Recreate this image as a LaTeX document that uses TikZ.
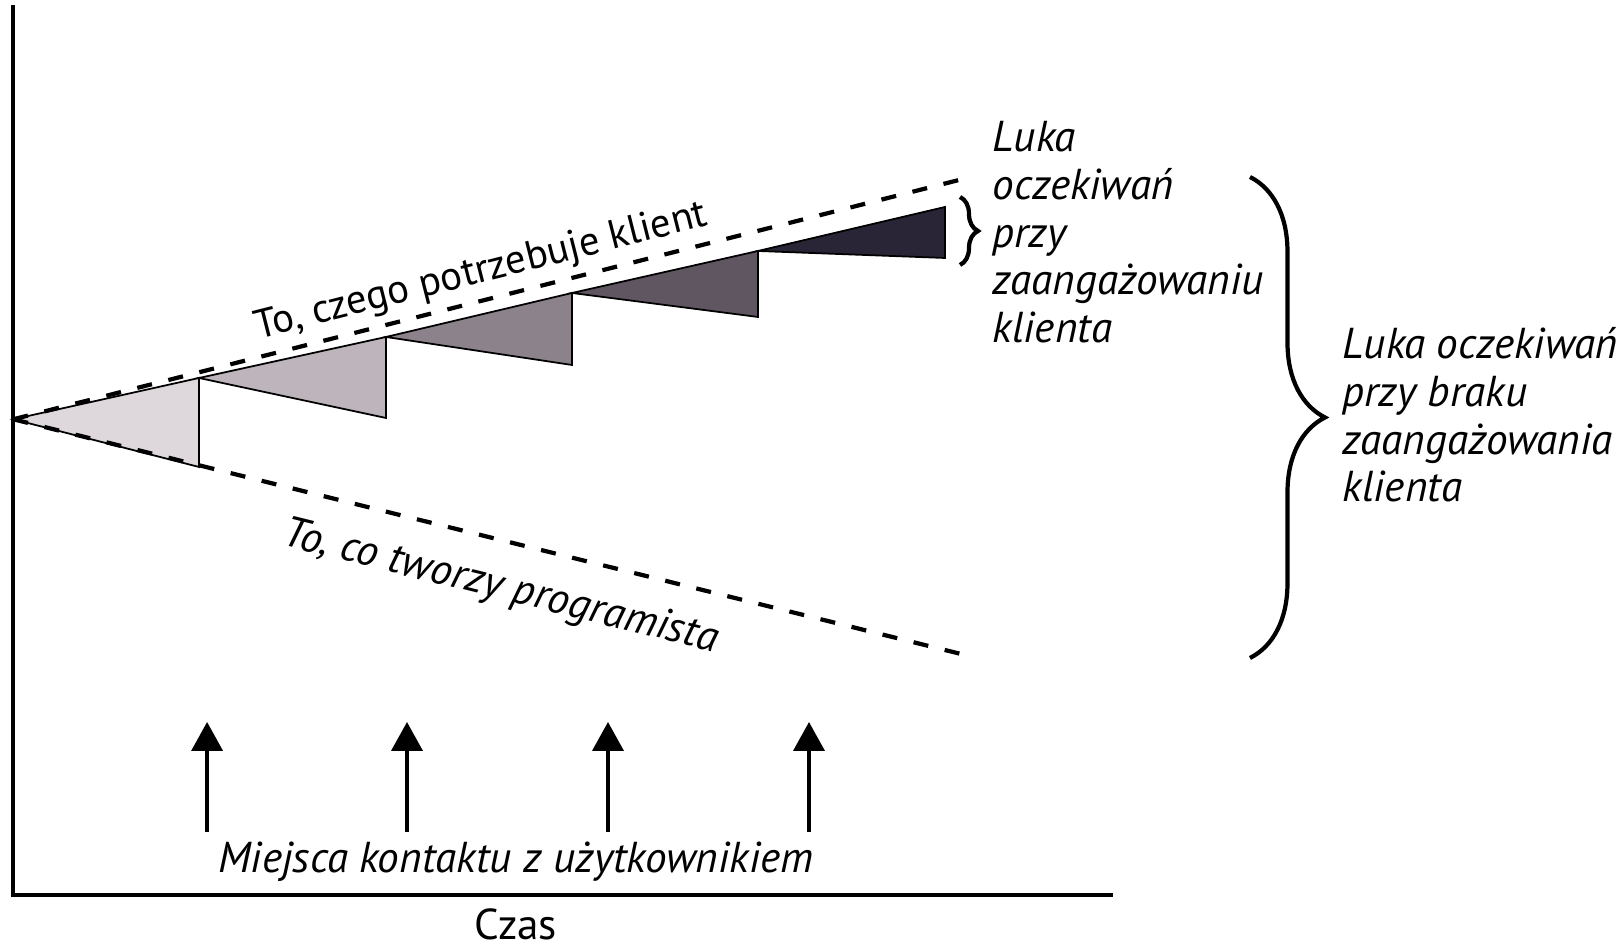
\documentclass[tikz,border=0pt]{standalone}
\usepackage{fontspec}
\setmainfont{PT Sans}
\usepackage{tikz}
\usepackage{xcolor}
\usetikzlibrary{calc,arrows.meta,decorations.pathreplacing}
\definecolor{gap_1}{RGB}{222,216,220}
\definecolor{gap_2}{RGB}{190,180,187}
\definecolor{gap_3}{RGB}{140,130,139}
\definecolor{gap_4}{RGB}{95,86,97}
\definecolor{gap_5}{RGB}{42,37,54}
\tikzset{
    axis_line/.style={line width=1.2pt},
    expect_line/.style={line width=1.2pt,dash pattern=on 4.3pt off 4.8pt},
    gap_area/.style={draw=black,line width=0.5pt},
    contact/.style={-{Triangle[length=2.9mm,width=3.1mm]},line width=1.1pt},
    gap_brace/.style={decorate,decoration={brace,amplitude=#1},line width=1.2pt},
    note_text/.style={font=\fontsize{12.3}{13.55}\selectfont\itshape,inner sep=0pt,align=left},
}

\begin{document}
\begin{tikzpicture}
  \useasboundingbox (0,0) rectangle (16.24,9.45);
  \coordinate (O) at (0.133,5.257);
  \coordinate (N) at (9.630,7.660);
  \coordinate (P) at (9.630,2.905);
  \coordinate (T1) at (1.990,5.670);
  \coordinate (B1) at (1.990,4.780);
  \coordinate (T2) at (3.860,6.080);
  \coordinate (B2) at (3.860,5.270);
  \coordinate (T3) at (5.720,6.520);
  \coordinate (B3) at (5.720,5.800);
  \coordinate (T4) at (7.580,6.940);
  \coordinate (B4) at (7.580,6.280);
  \coordinate (T5) at (9.450,7.380);
  \coordinate (B5) at (9.450,6.870);
  % Draw axes
  \draw[axis_line] (0.133,9.400) -- (0.133,0.500) -- (11.130,0.500);
  % Draw gaps between the two lines
  \filldraw[gap_area,fill=gap_1] (O) -- (T1) -- (B1) -- cycle;
  \filldraw[gap_area,fill=gap_2] (T1) -- (T2) -- (B2) -- cycle;
  \filldraw[gap_area,fill=gap_3] (T2) -- (T3) -- (B3) -- cycle;
  \filldraw[gap_area,fill=gap_4] (T3) -- (T4) -- (B4) -- cycle;
  \filldraw[gap_area,fill=gap_5] (T4) -- (T5) -- (B5) -- cycle;
  % Draw expectation lines
  \draw[expect_line] (O) -- (N) node[pos=0.5,sloped,anchor=base,yshift=5pt,inner sep=0pt,font=\fontsize{11.6}{14}\selectfont] {To, czego potrzebuje klient};
  \draw[expect_line] (O) -- (P) node[pos=0.525,sloped,below=7pt,inner sep=0pt,font=\fontsize{12.3}{14}\selectfont\itshape] {To, co tworzy programista};
  % Draw braces
  \draw[gap_brace=1.8mm] (9.600,7.480) -- (9.600,6.800);
  \draw[gap_brace=7.5mm] (12.500,7.680) -- (12.500,2.870);
  \node[note_text,anchor=north west] (gap_small) at (9.920,8.240) {Luka\\oczekiwań\\przy\\zaangażowaniu\\klienta};
  \node[note_text,anchor=north west] (gap_big) at (13.420,6.180) {Luka oczekiwań\\przy braku\\zaangażowania\\klienta};
  % Draw contact points
  \coordinate (C1) at (2.071,1.133);
  \coordinate (C2) at (4.070,1.133);
  \coordinate (C3) at (6.080,1.133);
  \coordinate (C4) at (8.090,1.133);
  \draw[contact] (C1) -- ++(0,1.097);
  \draw[contact] (C2) -- ++(0,1.097);
  \draw[contact] (C3) -- ++(0,1.097);
  \draw[contact] (C4) -- ++(0,1.097);
  \node[note_text] (contact_lbl) at (5.158,0.833) {Miejsca kontaktu z użytkownikiem};
  \node[font=\fontsize{12.3}{14}\selectfont,inner sep=0pt] (time_lbl) at (5.158,0.210) {Czas};
\end{tikzpicture}
\end{document}
